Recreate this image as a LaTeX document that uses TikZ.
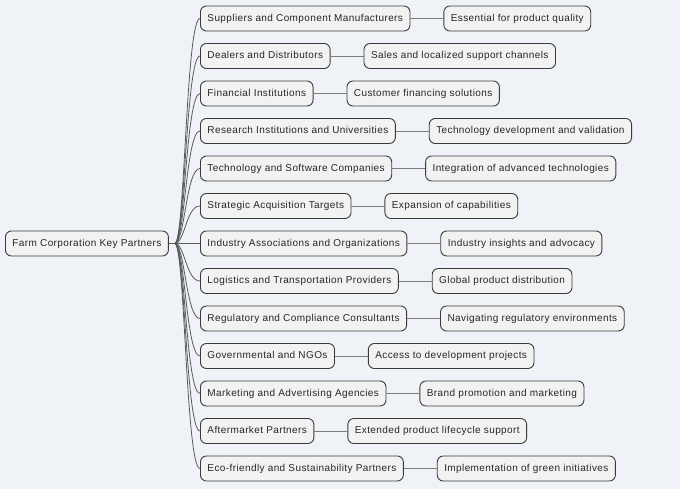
\documentclass[tikz,border=0pt]{standalone}
\usepackage{fontspec}
\setmainfont[LetterSpace=4]{Liberation Sans}
\usepackage{xcolor}
\usepackage{tikz}
\usetikzlibrary{positioning}

\definecolor{canvas}{HTML}{EFF2F7}
\definecolor{boxfill}{HTML}{F2F2F2}
\definecolor{boxline}{HTML}{3A3A3A}
\definecolor{wire}{HTML}{5A5A5A}

\tikzset{
  topic/.style={draw=boxline, line width=0.9pt, fill=boxfill, rounded corners=6pt,
    minimum height=25pt, inner xsep=7pt, inner ysep=2pt, text=black!85,
    text height=7.4pt, text depth=2pt,
    font=\fontsize{10}{12}\selectfont, anchor=west},
  leaf/.style={topic},
  branch/.style={draw=wire, line width=0.8pt},
  link/.style={draw=wire!80, line width=0.8pt}
}

\begin{document}
\begin{tikzpicture}[x=1pt, y=-1pt]
    \fill[canvas] (0,0) rectangle (680,489);
    \useasboundingbox (0,0) rectangle (680,489);

    \node[topic] (Root) at (5,243.5) {Farm Corporation Key Partners};

    \node[topic] (Sup) at (200,18.5) {Suppliers and Component Manufacturers};
    \node[topic] (Dea) at (200,56) {Dealers and Distributors};
    \node[topic] (Fin) at (200,93.5) {Financial Institutions};
    \node[topic] (Res) at (200,131) {Research Institutions and Universities};
    \node[topic] (Tec) at (200,168.5) {Technology and Software Companies};
    \node[topic] (Str) at (200,206) {Strategic Acquisition Targets};
    \node[topic] (Ind) at (200,243.5) {Industry Associations and Organizations};
    \node[topic] (Log) at (200,281) {Logistics and Transportation Providers};
    \node[topic] (Reg) at (200,318.5) {Regulatory and Compliance Consultants};
    \node[topic] (Gov) at (200,356) {Governmental and NGOs};
    \node[topic] (Mar) at (200,393.5) {Marketing and Advertising Agencies};
    \node[topic] (Aft) at (200,431) {Aftermarket Partners};
    \node[topic] (Eco) at (200,468.5) {Eco-friendly and Sustainability Partners};

    \node[leaf, right=33pt of Sup] (SupQ) {Essential for product quality};
    \node[leaf, right=33pt of Dea] (DeaQ) {Sales and localized support channels};
    \node[leaf, right=33pt of Fin] (FinQ) {Customer financing solutions};
    \node[leaf, right=33pt of Res] (ResQ) {Technology development and validation};
    \node[leaf, right=33pt of Tec] (TecQ) {Integration of advanced technologies};
    \node[leaf, right=33pt of Str] (StrQ) {Expansion of capabilities};
    \node[leaf, right=33pt of Ind] (IndQ) {Industry insights and advocacy};
    \node[leaf, right=33pt of Log] (LogQ) {Global product distribution};
    \node[leaf, right=33pt of Reg] (RegQ) {Navigating regulatory environments};
    \node[leaf, right=33pt of Gov] (GovQ) {Access to development projects};
    \node[leaf, right=33pt of Mar] (MarQ) {Brand promotion and marketing};
    \node[leaf, right=33pt of Aft] (AftQ) {Extended product lifecycle support};
    \node[leaf, right=33pt of Eco] (EcoQ) {Implementation of green initiatives};

    \draw[branch] (Root.east) -- ++(6,0) coordinate (Hub);
    \draw[branch] (Hub) .. controls +(10,0) and +(-14,0) .. (Sup.west);
    \draw[branch] (Hub) .. controls +(10,0) and +(-14,0) .. (Dea.west);
    \draw[branch] (Hub) .. controls +(10,0) and +(-14,0) .. (Fin.west);
    \draw[branch] (Hub) .. controls +(10,0) and +(-14,0) .. (Res.west);
    \draw[branch] (Hub) .. controls +(10,0) and +(-14,0) .. (Tec.west);
    \draw[branch] (Hub) .. controls +(10,0) and +(-14,0) .. (Str.west);
    \draw[branch] (Hub) -- (Ind.west);
    \draw[branch] (Hub) .. controls +(10,0) and +(-14,0) .. (Log.west);
    \draw[branch] (Hub) .. controls +(10,0) and +(-14,0) .. (Reg.west);
    \draw[branch] (Hub) .. controls +(10,0) and +(-14,0) .. (Gov.west);
    \draw[branch] (Hub) .. controls +(10,0) and +(-14,0) .. (Mar.west);
    \draw[branch] (Hub) .. controls +(10,0) and +(-14,0) .. (Aft.west);
    \draw[branch] (Hub) .. controls +(10,0) and +(-14,0) .. (Eco.west);

    \draw[link] (Sup) -- (SupQ);
    \draw[link] (Dea) -- (DeaQ);
    \draw[link] (Fin) -- (FinQ);
    \draw[link] (Res) -- (ResQ);
    \draw[link] (Tec) -- (TecQ);
    \draw[link] (Str) -- (StrQ);
    \draw[link] (Ind) -- (IndQ);
    \draw[link] (Log) -- (LogQ);
    \draw[link] (Reg) -- (RegQ);
    \draw[link] (Gov) -- (GovQ);
    \draw[link] (Mar) -- (MarQ);
    \draw[link] (Aft) -- (AftQ);
    \draw[link] (Eco) -- (EcoQ);
  \end{tikzpicture}
\end{document}
